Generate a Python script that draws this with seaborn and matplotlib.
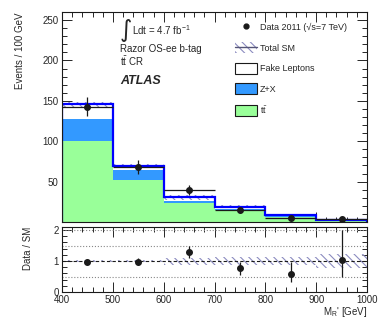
import numpy as np
import pandas as pd
import matplotlib
matplotlib.use('Agg')
import matplotlib.pyplot as plt
import seaborn as sns
from matplotlib.patches import Patch
from matplotlib.lines import Line2D
from matplotlib.ticker import MultipleLocator

# binning and yields (events / 100 GeV)
edges = [400, 500, 600, 700, 800, 900, 1000]
processes = ['Fake Leptons', 'Z+X', r'$t\bar{t}$']
fake = [18, 5.5, 4.5, 2.5, 1.6, 0.2]
zx = [28, 12, 3, 1.5, 0.5, 0.2]
ttbar = [100, 52, 23, 15, 6.5, 2.6]
sm_unc = [3, 2.5, 3.5, 2.2, 1.0, 0.7]
data = [143, 68, 39.5, 14.5, 5, 3.1]
data_err_lo = [12, 8.2, 6.2, 3.8, 2.2, 1.6]
data_err_hi = [12, 8.2, 6.2, 3.8, 3.4, 2.9]

colors = ['white', '#3399ff', '#99ff99']
hatch_col = '#8c8cc0'

sns.set_theme(style='ticks')
plt.rcParams['font.family'] = ['Liberation Sans', 'DejaVu Sans']
plt.rcParams['mathtext.fontset'] = 'custom'
plt.rcParams['mathtext.rm'] = 'Liberation Sans'
plt.rcParams['mathtext.it'] = 'Liberation Sans:italic'
plt.rcParams['mathtext.default'] = 'regular'
plt.rcParams['hatch.linewidth'] = 0.8

edges_a = np.array(edges)
centers = (edges_a[:-1] + edges_a[1:]) / 2
total = np.array(fake) + np.array(zx) + np.array(ttbar)
unc = np.array(sm_unc)

df = pd.DataFrame({
    'mr': np.concatenate([centers] * 3),
    'events': fake + zx + ttbar,
    'process': np.repeat(processes, len(centers)),
})

fig = plt.figure(figsize=(3.9, 3.21), dpi=100)
ax = fig.add_axes([0.159, 0.3084, 0.782, 0.6542])
ax2 = fig.add_axes([0.159, 0.0903, 0.782, 0.2025])

sns.histplot(data=df, x='mr', weights='events', hue='process', hue_order=processes,
             multiple='stack', bins=edges, element='step', fill=True, alpha=1,
             palette=colors, linewidth=0, legend=False, ax=ax)
ax.stairs(total + unc, edges, baseline=total - unc, fill=True, facecolor='none',
          edgecolor=hatch_col, hatch='\\\\\\\\', lw=0)
ax.stairs(total, edges, color='#0000ff', lw=1.6)
ax.errorbar(centers, data, yerr=[data_err_lo, data_err_hi], xerr=50, fmt='o',
            color='k', ms=4, elinewidth=0.9, capsize=0)

ax.set_xlim(400, 1000)
ax.set_ylim(0, 260)
ax.set_xlabel('')
ax.set_ylabel('Events / 100 GeV', fontsize=7, loc='top')
ax.yaxis.set_label_coords(-0.12, 1.0)
ax.set_xticklabels([])
ax.set_yticks([50, 100, 150, 200, 250])
ax.xaxis.set_major_locator(MultipleLocator(100))
ax.xaxis.set_minor_locator(MultipleLocator(20))
ax.yaxis.set_minor_locator(MultipleLocator(10))

# ratio panel
ratio = np.array(data) / total
r_lo = np.array(data_err_lo) / total
r_hi = np.array(data_err_hi) / total
rel = unc / total
ax2.stairs(1 + rel, edges, baseline=1 - rel, fill=True, facecolor='none',
           edgecolor=hatch_col, hatch='\\\\\\\\', lw=0)
for yv in [0.5, 1.5, 2.0]:
    ax2.axhline(yv, color='#888888', ls=':', lw=0.8)
ax2.axhline(1.0, color='k', ls=(0, (3, 2)), lw=0.8)
ax2.errorbar(centers, ratio, yerr=[r_lo, r_hi], fmt='o', color='k', ms=4,
             elinewidth=0.9, capsize=0)
ax2.set_xlim(400, 1000)
ax2.set_ylim(0, 2.1)
ax2.set_yticks([0, 1, 2])
ax2.yaxis.set_minor_locator(MultipleLocator(0.2))
ax2.xaxis.set_major_locator(MultipleLocator(100))
ax2.xaxis.set_minor_locator(MultipleLocator(20))
ax2.set_ylabel('Data / SM', fontsize=7, loc='top')
ax2.yaxis.set_label_coords(-0.095, 1.0)
ax2.set_xlabel("M$_R$' [GeV]", fontsize=7, loc='right', labelpad=0)

for a in (ax, ax2):
    a.tick_params(which='both', direction='in', top=True, right=True, labelsize=7,
                  width=0.7, pad=2.5)
    a.tick_params(which='major', length=7)
    a.tick_params(which='minor', length=3.5)
    for s in a.spines.values():
        s.set_linewidth(0.8)
        s.set_color('k')

# labels
ax.text(0.188, 0.882, '\u222b', transform=ax.transAxes, fontsize=17,
        family='DejaVu Sans')
ax.text(0.228, 0.89, 'Ldt = 4.7 fb$^{-1}$', transform=ax.transAxes, fontsize=7)
ax.text(0.19, 0.81, 'Razor OS-ee b-tag', transform=ax.transAxes, fontsize=7)
ax.text(0.19, 0.745, r'$t\bar{t}$ CR', transform=ax.transAxes, fontsize=7)
ax.text(0.19, 0.655, 'ATLAS', transform=ax.transAxes, fontsize=9,
        fontweight='bold', fontstyle='italic')

handles = [
    Line2D([], [], marker='o', color='k', ls='none', ms=3.5),
    (Patch(facecolor='none', edgecolor=hatch_col, hatch='\\\\\\\\', lw=0),
     Line2D([], [], color='#555577', lw=1)),
    Patch(facecolor=colors[0], edgecolor='k', lw=0.8),
    Patch(facecolor=colors[1], edgecolor='k', lw=0.8),
    Patch(facecolor=colors[2], edgecolor='k', lw=0.8),
]
labels = ['Data 2011 (\u221as=7 TeV)', 'Total SM'] + processes
ax.legend(handles, labels, loc='upper left', bbox_to_anchor=(0.555, 0.97),
          frameon=False, fontsize=6.5, handlelength=2.4, handleheight=1.5,
          labelspacing=1.05, handletextpad=0.4, borderaxespad=0)

fig.savefig('out.png', dpi=100)
